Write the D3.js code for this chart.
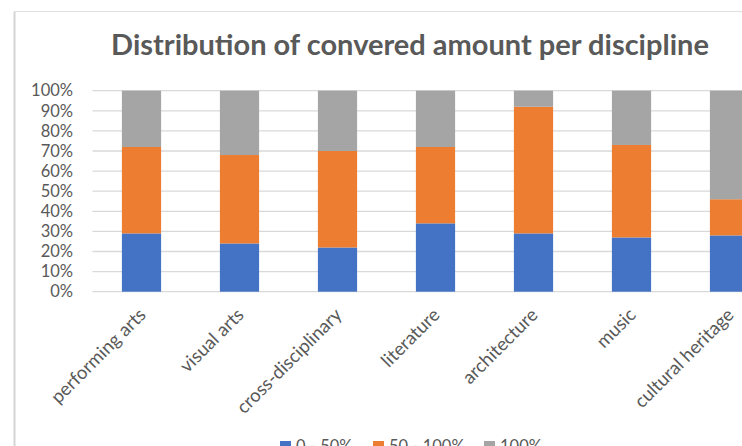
<!DOCTYPE html>
<html>
<head>
<meta charset="utf-8">
<script src="https://cdn.jsdelivr.net/npm/d3@7/dist/d3.min.js"></script>
<style>
  html, body { margin: 0; padding: 0; background: #ffffff; overflow: hidden; }
  svg { display: block; }
  text { font-family: "Lato", "Liberation Sans", sans-serif; }
</style>
</head>
<body>
<svg id="chart" width="742" height="446"></svg>
<script>
const categories = ["performing arts", "visual arts", "cross-disciplinary", "literature", "architecture", "music", "cultural heritage"];
const seriesNames = ["0 - 50%", "50 - 100%", "100%"];
const low = [29, 24, 22, 34, 29, 27, 28];
const mid = [43, 44, 48, 38, 63, 46, 18];
const high = [28, 32, 30, 28, 8, 27, 54];
const seriesColors = ["#4472C4", "#ED7D31", "#A5A5A5"];
const yTicks = [0, 10, 20, 30, 40, 50, 60, 70, 80, 90, 100];
const titleText = "Distribution of convered amount per discipline";

const svg = d3.select("#chart");
const W = 742, H = 446;

// frame of the chart area
svg.append("line").attr("x1", 14.5).attr("x2", 14.5).attr("y1", 11.5).attr("y2", H)
  .attr("stroke", "#d4d4d4").attr("stroke-width", 2);
svg.append("line").attr("x1", 14.5).attr("x2", W).attr("y1", 11.5).attr("y2", 11.5)
  .attr("stroke", "#e0e0e0").attr("stroke-width", 1.2);

// title
svg.append("text")
  .attr("x", 410).attr("y", 55)
  .attr("text-anchor", "middle")
  .attr("font-weight", "bold")
  .attr("font-size", 29)
  .attr("fill", "#595959")
  .text(titleText);

const plotLeft = 92.5, step = 98;
const x = d3.scaleBand()
  .domain(categories)
  .range([plotLeft, plotLeft + step * categories.length])
  .paddingInner(0.6)
  .paddingOuter(0.3);

const y = d3.scaleLinear().domain([0, 100]).range([291.7, 90.7]);

// gridlines
svg.append("g").selectAll("line").data(yTicks).join("line")
  .attr("x1", plotLeft).attr("x2", W)
  .attr("y1", d => y(d)).attr("y2", d => y(d))
  .attr("stroke", "#d9d9d9").attr("stroke-width", 1.3);

// y axis labels
const yAxis = d3.axisLeft(y).tickValues(yTicks).tickFormat(d => d + "%").tickSize(0).tickPadding(0);
const yg = svg.append("g").attr("transform", "translate(73,0)").call(yAxis);
yg.select(".domain").remove();
yg.selectAll("text").attr("font-size", 16.5).attr("fill", "#595959")
  .style("font-family", "Lato, 'Liberation Sans', sans-serif");

// stacked bars
const rows = categories.map((c, i) => ({ cat: c, s0: low[i], s1: mid[i], s2: high[i] }));
const stack = d3.stack().keys(["s0", "s1", "s2"]);
const stacked = stack(rows);

svg.append("g").selectAll("g").data(stacked).join("g")
  .attr("fill", (d, i) => seriesColors[i])
  .selectAll("rect").data(d => d).join("rect")
  .attr("x", d => x(d.data.cat))
  .attr("width", x.bandwidth())
  .attr("y", d => y(d[1]))
  .attr("height", d => y(d[0]) - y(d[1]));

// x axis labels
const xAxis = d3.axisBottom(x).tickSize(0).tickPadding(0);
const xg = svg.append("g").attr("transform", "translate(0,316)").call(xAxis);
xg.select(".domain").remove();
xg.selectAll("text")
  .attr("font-size", 18.5)
  .attr("fill", "#595959")
  .attr("text-anchor", "end")
  .attr("x", 5.5).attr("y", 0).attr("dy", 0)
  .attr("transform", "rotate(-45, 5.5, 0)")
  .style("font-family", "Lato, 'Liberation Sans', sans-serif");

// legend
const legendX = [280, 373, 484];
const lg = svg.append("g").selectAll("g").data(seriesNames).join("g")
  .attr("transform", (d, i) => `translate(${legendX[i]},0)`);
lg.append("rect").attr("x", 0).attr("y", 441).attr("width", 11).attr("height", 11)
  .attr("fill", (d, i) => seriesColors[i]);
lg.append("text").attr("x", 16).attr("y", 452)
  .attr("font-size", 16.5).attr("fill", "#595959").text(d => d);
</script>
</body>
</html>
